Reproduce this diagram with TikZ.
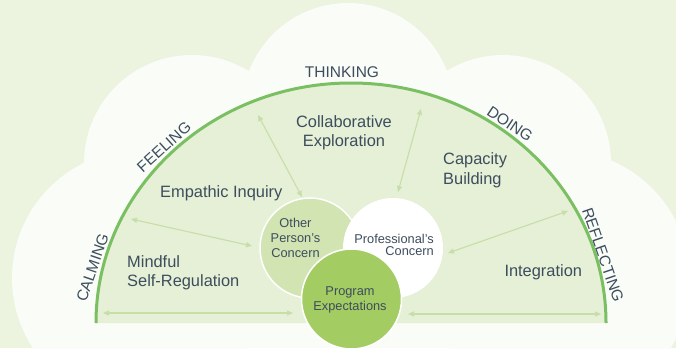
\documentclass[tikz,border=0pt]{standalone}
\usepackage{fontspec}
\setmainfont{Liberation Sans}
\usetikzlibrary{arrows.meta}
\usetikzlibrary{calc}

\definecolor{bggreen}{RGB}{236,243,223}
\definecolor{cloudwhite}{RGB}{250,252,247}
\definecolor{discgreen}{RGB}{229,240,214}
\definecolor{arcgreen}{RGB}{122,192,98}
\definecolor{arrowgreen}{RGB}{200,222,168}
\definecolor{othergreen}{RGB}{210,228,178}
\definecolor{proggreen}{RGB}{163,204,98}
\definecolor{inktext}{RGB}{61,77,94}

\tikzset{
  arrowline/.style={draw=arrowgreen, line width=1.1pt,
    {Triangle[length=6pt,width=5pt]}-{Triangle[length=6pt,width=5pt]}},
  stagelabel/.style={text=inktext, inner sep=0pt, font=\fontsize{15.5}{18}\selectfont},
  regionlabel/.style={text=inktext, inner sep=0pt, align=left, font=\fontsize{16.4}{19.5}\selectfont},
  concern/.style={circle, minimum size=100pt, inner sep=0pt, draw=white, line width=1.5pt},
  concernlabel/.style={text=inktext, inner sep=0pt, align=center, font=\fontsize{12.8}{15.2}\selectfont},
}

\begin{document}
\begin{tikzpicture}[x=1pt, y=-1pt]
  \useasboundingbox (0,0) rectangle (676,348);
  \fill[bggreen] (0,0) rectangle (676,348);

  % cloud behind the half disc
  \fill[cloudwhite] (140,278) circle[radius=128];
  \fill[cloudwhite] (192,163) circle[radius=108];
  \fill[cloudwhite] (348,109) circle[radius=106];
  \fill[cloudwhite] (503,163) circle[radius=108];
  \fill[cloudwhite] (560,280) circle[radius=130];
  \fill[cloudwhite] (82,163) rectangle (618,348);

  % half disc
  \coordinate (hub) at (351,323);
  \fill[discgreen] ($(hub)+(-255,0)$) arc[start angle=180, end angle=360, x radius=255, y radius=240] -- cycle;
  \draw[arcgreen, line width=3pt] ($(hub)+(-255,0)$) arc[start angle=180, end angle=360, x radius=255, y radius=240];

  % stages along the arc
  \node[stagelabel, rotate=71] (calming) at (92.5,267.5) {CALMING};
  \node[stagelabel, rotate=42] (feeling) at (164,147) {FEELING};
  \node[stagelabel] (thinking) at (342,72.5) {THINKING};
  \node[stagelabel, rotate=-34] (doing) at (510,124) {DOING};
  \node[stagelabel, rotate=-71] (reflecting) at (603,255) {REFLECTING};

  % regions
  \node[regionlabel, anchor=north west] (mindful) at (127,255) {Mindful\\Self-Regulation};
  \node[regionlabel, anchor=north west] (empathic) at (160,185) {Empathic Inquiry};
  \node[regionlabel, align=center, anchor=north] (explore) at (344,115) {Collaborative\\Exploration};
  \node[regionlabel, anchor=north west] (capacity) at (443,152.7) {Capacity\\Building};
  \node[regionlabel, anchor=north west] (integrate) at (504.3,264) {Integration};

  % arrow ends
  \coordinate (calm-a) at (103,313);  \coordinate (calm-b) at (293,313);
  \coordinate (feel-a) at (131,219);  \coordinate (feel-b) at (252,246);
  \coordinate (think-a) at (258,115); \coordinate (think-b) at (302,197);
  \coordinate (do-a) at (421,109);    \coordinate (do-b) at (398,192);
  \coordinate (refl-a) at (568,211);  \coordinate (refl-b) at (448,253);
  \coordinate (integ-a) at (408,314); \coordinate (integ-b) at (601,314);

  \foreach \a/\b in {calm-a/calm-b, feel-a/feel-b, think-a/think-b, do-a/do-b, refl-a/refl-b, integ-a/integ-b}
    \draw[arrowline] (\a) -- (\b);

  % the three concerns
  \node[concern, fill=othergreen] (other) at (310,248) {};
  \node[concern, fill=white, draw=none] (prof) at (393,248) {};
  \node[concern, fill=proggreen] (prog) at (351.5,299) {};

  \node[concernlabel, anchor=north] (other-text) at (295.5,218) {Other\\Person’s\\Concern};
  \node[concernlabel, align=right, anchor=north east, font=\fontsize{12.8}{11.8}\selectfont] (prof-text) at (434,234) {Professional’s\\Concern};
  \node[concernlabel, anchor=north] (prog-text) at (350,286.7) {Program\\Expectations};
\end{tikzpicture}
\end{document}
